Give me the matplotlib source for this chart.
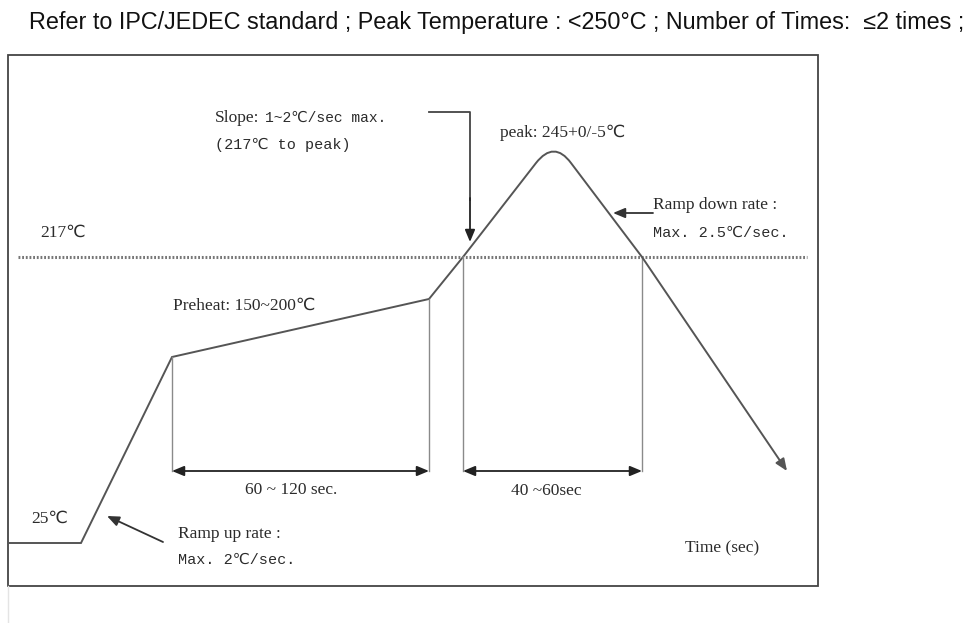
import matplotlib
matplotlib.use("Agg")
import matplotlib.pyplot as plt
from matplotlib.path import Path
from matplotlib.patches import PathPatch, Rectangle

# Schematic reflow profile, drawn in the picture's own coordinate frame
# (x grows to the right with time, y grows downward, higher temperature = smaller y)
title = "Refer to IPC/JEDEC standard ; Peak Temperature : <250°C ; Number of Times:  ≤2 times ;"

# profile corners: start, end of 25C soak, preheat start, preheat end, 217C crossing
rise_x = [8, 81, 172, 429, 463]
rise_y = [543, 543, 357, 299, 257]
# rounded peak (start of curve, corner, end of curve)
peak_x = [536, 554, 571]
peak_y = [163, 140, 163]
# cooling: 217C crossing and arrow end
fall_x = [642, 787]
fall_y = [257, 471]

line_217_y = 257
line_217_x = [18, 807]

# dimension markers: (left, right, baseline)
preheat_span = (172, 429)
reflow_span = (463, 642)
span_y = 471
# vertical guide lines (x, top)
guides_x = [172, 429, 463, 642]
guides_top = [357, 299, 257, 257]

frame = (8, 55, 818, 586)

plt.rcParams['font.family'] = ['Liberation Serif', 'DejaVu Serif', 'DejaVu Sans']
serif = ['Liberation Serif', 'DejaVu Sans']
mono = ['Liberation Mono', 'DejaVu Sans']

fig = plt.figure(figsize=(9.74, 6.23), dpi=100)
ax = fig.add_axes([0, 0, 1, 1])
ax.set_xlim(0, 974)
ax.set_ylim(623, 0)
ax.axis('off')

line_col = '#555555'
text_col = '#2b2b2b'

# title
ax.text(497, 22, title, ha='center', va='center', fontsize=16.8,
        family=['Liberation Sans', 'DejaVu Sans'], color='#111111')

# frame
ax.add_patch(Rectangle((frame[0], frame[1]), frame[2] - frame[0], frame[3] - frame[1],
                       fill=False, edgecolor='#444444', linewidth=1.3))
ax.plot([frame[0], frame[0]], [frame[3], 623], color='#e4e4e4', linewidth=1)

# 217C dotted line
ax.plot(line_217_x, [line_217_y, line_217_y], color='#777777', linewidth=2.2,
        linestyle=(0, (0.6, 0.6)))

# guides
for gx, gt in zip(guides_x, guides_top):
    ax.plot([gx, gx], [gt, span_y], color='#8a8a8a', linewidth=1)

# profile
verts = list(zip(rise_x, rise_y)) + list(zip(peak_x, peak_y)) + [(fall_x[0], fall_y[0])]
codes = [Path.MOVETO] + [Path.LINETO] * (len(rise_x) - 1) + [Path.LINETO, Path.CURVE3, Path.CURVE3, Path.LINETO]
ax.add_patch(PathPatch(Path(verts, codes), fill=False, edgecolor=line_col, linewidth=1.4))
ax.annotate('', xy=(fall_x[1], fall_y[1]), xytext=(fall_x[0], fall_y[0]),
            arrowprops=dict(arrowstyle='-|>,head_length=0.6,head_width=0.25', color=line_col,
                            lw=1.4, shrinkA=0, shrinkB=0, mutation_scale=12))

# time spans
for a, b in [preheat_span, reflow_span]:
    ax.annotate('', xy=(b, span_y), xytext=(a, span_y),
                arrowprops=dict(arrowstyle='<|-|>,head_length=0.6,head_width=0.25', color='#222222',
                                lw=1.3, shrinkA=0, shrinkB=0, mutation_scale=12))

# slope pointer
ax.plot([429, 470, 470], [112, 112, 200], color='#444444', linewidth=1.3)
ax.annotate('', xy=(470, 242), xytext=(470, 198),
            arrowprops=dict(arrowstyle='-|>,head_length=0.6,head_width=0.25', color='#222222',
                            lw=1.3, shrinkA=0, shrinkB=0, mutation_scale=12))

# ramp down pointer
ax.annotate('', xy=(613, 213), xytext=(653, 213),
            arrowprops=dict(arrowstyle='-|>,head_length=0.6,head_width=0.25', color='#333333',
                            lw=1.3, shrinkA=0, shrinkB=0, mutation_scale=12))

# ramp up pointer
ax.annotate('', xy=(107, 516), xytext=(163, 542),
            arrowprops=dict(arrowstyle='-|>,head_length=0.6,head_width=0.25', color='#333333',
                            lw=1.3, shrinkA=0, shrinkB=0, mutation_scale=12))

fs = 12.5
fm = 10.9
ax.text(40, 233, "217℃", fontsize=fs, family=serif, color=text_col, va='center')
ax.text(215, 118, "Slope:", fontsize=fs, family=serif, color=text_col, va='center')
ax.text(265, 118, "1~2℃/sec max.", fontsize=10.5, family=mono, color=text_col, va='center')
ax.text(215, 145, "(217℃ to peak)", fontsize=fm, family=mono, color=text_col, va='center')
ax.text(500, 133, "peak: 245+0/-5℃", fontsize=fs, family=serif, color=text_col, va='center')
ax.text(653, 205, "Ramp down rate :", fontsize=fs, family=serif, color=text_col, va='center')
ax.text(653, 233, "Max. 2.5℃/sec.", fontsize=fm, family=mono, color=text_col, va='center')
ax.text(173, 306, "Preheat: 150~200℃", fontsize=fs, family=serif, color=text_col, va='center')
ax.text(291, 490, "60 ~ 120 sec.", fontsize=fs, family=serif, color=text_col, va='center', ha='center')
ax.text(546, 491, "40 ~60sec", fontsize=fs, family=serif, color=text_col, va='center', ha='center')
ax.text(31, 519, "25℃", fontsize=fs, family=serif, color=text_col, va='center')
ax.text(178, 534, "Ramp up rate :", fontsize=fs, family=serif, color=text_col, va='center')
ax.text(178, 560, "Max. 2℃/sec.", fontsize=fm, family=mono, color=text_col, va='center')
ax.text(722, 548, "Time (sec)", fontsize=fs, family=serif, color=text_col, va='center', ha='center')

fig.savefig("out.png", dpi=100)
